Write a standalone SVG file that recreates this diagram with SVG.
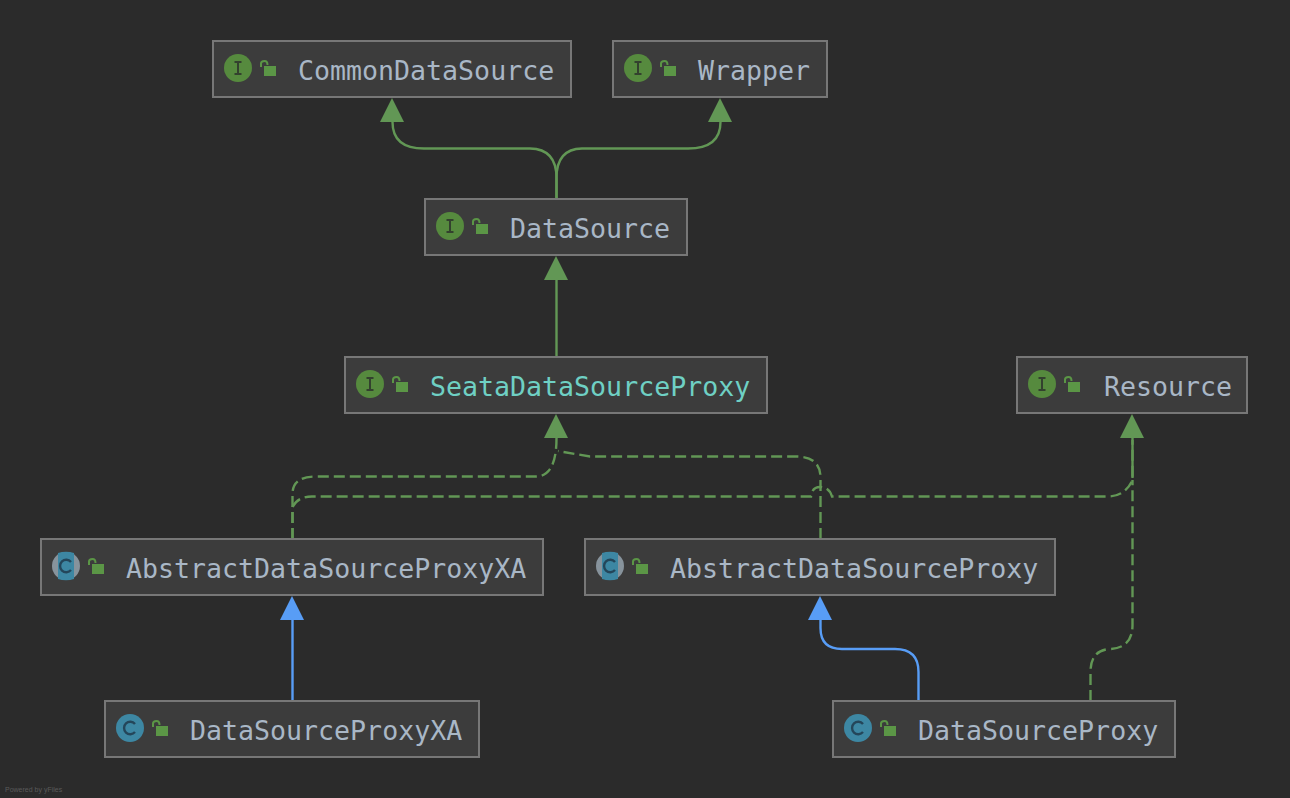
<svg xmlns="http://www.w3.org/2000/svg" xmlns:xlink="http://www.w3.org/1999/xlink" width="1290" height="798" viewBox="0 0 1290 798">
<style>
.box{fill:#3c3c3c;stroke:#777;stroke-width:2}
.t{font-family:"DejaVu Sans Mono",monospace;font-size:26.6px;fill:#a9b7c6}
.c{fill:none;stroke-width:2.4}
.g{stroke:#629755}
.d{stroke-dasharray:11 5}
.b{stroke:#589df6}
.pw{font-family:"Liberation Sans",sans-serif;font-size:7px;fill:#5a5a5a}
</style>
<defs>
<g id="lock"><rect x="1" y="3" width="12" height="10" fill="#5b9646"/><path d="M-2 4 V0.500 Q-2 -2 1.500 -2 Q4.500 -2 4.500 2" fill="none" stroke="#5b9646" stroke-width="2"/></g>
<g id="iI"><circle r="14" fill="#568a3e"/><path d="M-3.500 -6 H3.500 M-3.500 6 H3.500 M0 -6 V6" stroke="#33412e" stroke-width="2" fill="none"/></g>
<g id="iC"><circle r="14" fill="#3d87a3"/><path d="M5 -4 A6.200 6.200 0 1 0 5 4" fill="none" stroke="#24465a" stroke-width="2.400"/></g>
<g id="iA"><circle r="14" fill="#87939c"/><path d="M-8 -13 Q0 -15.500 8 -13 V13 Q0 15.500 -8 13 Z" fill="#3d87a3"/><path d="M5 -4 A6.200 6.200 0 1 0 5 4" fill="none" stroke="#24465a" stroke-width="2.400"/></g>
<path id="ah" d="M0 0 L12 24 H-12 Z"/>
</defs>
<rect width="1290" height="798" fill="#2b2b2b"/>
<g id="connectors">
<path class="c g" d="M556.500 199 V178 Q556.500 149 530 148.500 H424 Q392.500 148.500 392.500 122 V120"/>
<path class="c g" d="M556.500 199 V178 Q556.500 149 582 148.500 H688 Q720.500 148.500 720.500 122 V120"/>
<path class="c g" d="M556.500 357 V278"/>
<path class="c g d" d="M292.500 539 V494 Q292.500 476.500 316 476.500 H536 Q556.500 476.500 556.500 438"/>
<path class="c g d" d="M820.500 539 V478 Q820.500 456.500 796 456.500 H590 L558 451"/>
<path class="c g d" d="M292.500 539 V507 Q298 496.500 312 496.500 H811 Q812 487 820 487 Q829 487 832 496.500 H1108 Q1125 496.500 1132.500 480 V438"/>
<path class="c g" d="M1132.500 478 V440"/>
<path class="c g d" d="M1090.500 701 V672 Q1090.500 650 1110 649 Q1132.500 648 1132.500 625 V480"/>
<path class="c b" d="M292.500 701 V618"/>
<path class="c b" d="M918.500 701 V672 Q918.500 649 895 649 H842 Q820.500 649 820.500 628 V618"/>
<use xlink:href="#ah" href="#ah" x="392" y="98" fill="#629755"/>
<use xlink:href="#ah" href="#ah" x="720" y="98" fill="#629755"/>
<use xlink:href="#ah" href="#ah" x="556" y="256" fill="#629755"/>
<use xlink:href="#ah" href="#ah" x="556" y="414" fill="#629755"/>
<use xlink:href="#ah" href="#ah" x="1132" y="414" fill="#629755"/>
<use xlink:href="#ah" href="#ah" x="292" y="596" fill="#589df6"/>
<use xlink:href="#ah" href="#ah" x="820" y="596" fill="#589df6"/>
</g>
<g id="CommonDataSource"><rect class="box" x="213" y="41" width="358" height="56"/><use xlink:href="#iI" href="#iI" x="238" y="68"/><use xlink:href="#lock" href="#lock" x="263" y="63"/><text class="t" x="298" y="80">CommonDataSource</text></g>
<g id="Wrapper"><rect class="box" x="613" y="41" width="214" height="56"/><use xlink:href="#iI" href="#iI" x="638" y="68"/><use xlink:href="#lock" href="#lock" x="663" y="63"/><text class="t" x="698" y="80">Wrapper</text></g>
<g id="DataSource"><rect class="box" x="425" y="199" width="262" height="56"/><use xlink:href="#iI" href="#iI" x="450" y="226"/><use xlink:href="#lock" href="#lock" x="475" y="221"/><text class="t" x="510" y="238">DataSource</text></g>
<g id="SeataDataSourceProxy"><rect class="box" x="345" y="357" width="422" height="56"/><use xlink:href="#iI" href="#iI" x="370" y="384"/><use xlink:href="#lock" href="#lock" x="395" y="379"/><text class="t" x="430" y="396" style="fill:#6fd0c4">SeataDataSourceProxy</text></g>
<g id="Resource"><rect class="box" x="1017" y="357" width="230" height="56"/><use xlink:href="#iI" href="#iI" x="1042" y="384"/><use xlink:href="#lock" href="#lock" x="1067" y="379"/><text class="t" x="1104" y="396">Resource</text></g>
<g id="AbstractDataSourceProxyXA"><rect class="box" x="41" y="539" width="502" height="56"/><use xlink:href="#iA" href="#iA" x="66" y="566"/><use xlink:href="#lock" href="#lock" x="91" y="561"/><text class="t" x="126" y="578">AbstractDataSourceProxyXA</text></g>
<g id="AbstractDataSourceProxy"><rect class="box" x="585" y="539" width="470" height="56"/><use xlink:href="#iA" href="#iA" x="610" y="566"/><use xlink:href="#lock" href="#lock" x="635" y="561"/><text class="t" x="670" y="578">AbstractDataSourceProxy</text></g>
<g id="DataSourceProxyXA"><rect class="box" x="105" y="701" width="374" height="56"/><use xlink:href="#iC" href="#iC" x="130" y="728"/><use xlink:href="#lock" href="#lock" x="155" y="723"/><text class="t" x="190" y="740">DataSourceProxyXA</text></g>
<g id="DataSourceProxy"><rect class="box" x="833" y="701" width="342" height="56"/><use xlink:href="#iC" href="#iC" x="858" y="728"/><use xlink:href="#lock" href="#lock" x="883" y="723"/><text class="t" x="918" y="740">DataSourceProxy</text></g>
<text class="pw" x="5" y="792">Powered by yFiles</text>
</svg>
